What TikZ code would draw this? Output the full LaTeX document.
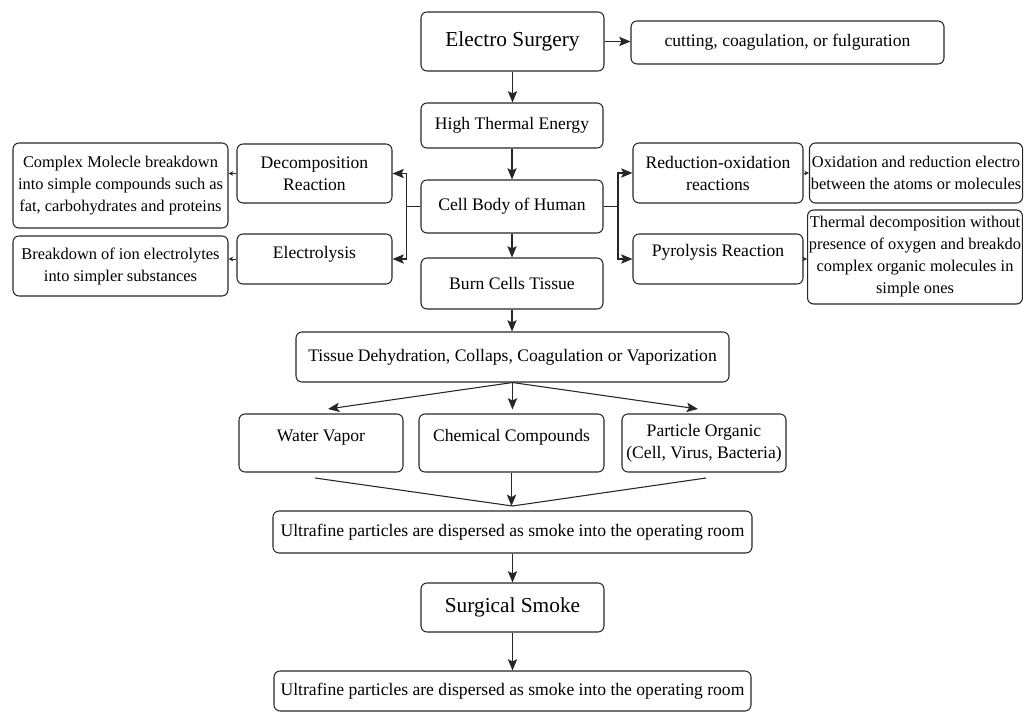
\documentclass[tikz,border=0pt]{standalone}
\usepackage{fontspec}
\setmainfont{Liberation Serif}
\usetikzlibrary{arrows.meta,calc}
\tikzset{
  box/.style={draw=black!85, line width=0.8pt, rounded corners=4.5pt, inner sep=1pt, align=center,
    font=\fontsize{13.2}{16.5}\selectfont},
  big/.style={font=\fontsize{16}{18}\selectfont},
  small/.style={font=\fontsize{12.3}{16.5}\selectfont},
  lift/.style={text height=9.2pt, text depth=#1},
  conn/.style={line width=0.8pt, draw=black!85},
  arr/.style={conn, -{Stealth[length=8.5pt,width=7pt,inset=1.8pt]}},
  tinyarr/.style={line width=0.6pt, draw=black!85, -{Stealth[length=3.5pt,width=3.5pt]}}
}
\newcommand\bx[7]{\node[box,#1,minimum width={(#5-#3)*0.75pt},minimum height={(#6-#4)*0.75pt}] (#2) at ({(#3+#5)/2},{(#4+#6)/2}) {#7};}
\begin{document}
\begin{tikzpicture}[x=0.75pt,y=-0.75pt]
\useasboundingbox (0,0) rectangle (1025,712);
\bx{big}{es}{421}{12}{604}{71}{Electro Surgery}
\bx{}{cut}{631}{21}{944}{64}{cutting, coagulation, or fulguration}
\bx{}{hte}{421}{103}{603}{148}{High Thermal Energy}
\bx{}{cb}{421}{180}{603}{233}{Cell Body of Human}
\bx{}{bc}{421}{258}{603}{309}{Burn Cells Tissue}
\bx{}{dec}{237}{144}{392}{203}{Decomposition\\Reaction}
\bx{small}{cmp}{13}{143}{228}{228}{Complex Molecle breakdown\\into simple compounds such as\\fat, carbohydrates and proteins}
\bx{lift=10.5pt}{ele}{237}{234}{392}{284}{Electrolysis}
\bx{small}{brk}{13}{236}{228}{296}{Breakdown of ion electrolytes\\into simpler substances}
\bx{}{red}{633}{143}{803}{203}{Reduction-oxidation\\reactions}
\bx{small}{oxi}{812}{143}{1020}{203}{Oxidation and reduction electro\\between the atoms or molecules}
\bx{lift=13.5pt}{pyr}{633}{234}{803}{284}{Pyrolysis Reaction}
\bx{small}{thd}{810}{210}{1020}{304}{Thermal decomposition without\\presence of oxygen and breakdo\\complex organic molecules in\\simple ones}
\bx{}{tis}{296}{332}{729}{382}{Tissue Dehydration, Collaps, Coagulation or Vaporization}
\bx{lift=12pt}{wv}{239}{414}{403}{472}{Water Vapor}
\bx{lift=12pt}{chem}{419}{414}{604}{472}{Chemical Compounds}
\bx{}{po}{622}{414}{786}{472}{Particle Organic\\(Cell, Virus, Bacteria)}
\bx{}{uf1}{273}{511}{752}{553}{Ultrafine particles are dispersed as smoke into the operating room}
\bx{big}{ss}{421}{583}{604}{632}{Surgical Smoke}
\bx{}{uf2}{274}{671}{751}{711}{Ultrafine particles are dispersed as smoke into the operating room}
% connectors
\draw[arr] (es.east) -- (es.east -| cut.west);
\draw[arr] (es.south) -- (es.south |- hte.north);
\draw[arr] (hte.south) -- (hte.south |- cb.north);
\draw[arr] (cb.south) -- (cb.south |- bc.north);
\draw[arr] (bc.south) -- (bc.south |- tis.north);
\coordinate (jl) at (406.7,206.5);
\coordinate (jr) at (618,206.5);
\draw[conn] (cb.west) -- (jl);
\draw[arr] (jl) |- (dec.east);
\draw[arr] (jl) |- (ele.east);
\draw[conn] (cb.east) -- (jr);
\draw[arr] (jr) |- (red.west);
\draw[arr] (jr) |- (pyr.west);
\draw[tinyarr] (dec.west) -- (dec.west -| cmp.east);
\draw[tinyarr] (ele.west) -- (ele.west -| brk.east);
\draw[tinyarr] (red.east) -- (red.east -| oxi.west);
\draw[tinyarr] (pyr.east) -- (pyr.east -| thd.west);
\coordinate (wvin) at (328,409);
\coordinate (poin) at (698,409);
\draw[arr] (tis.south) -- (wvin);
\draw[arr] (tis.south) -- (poin);
\draw[arr, shorten >=3pt] (tis.south) -- (tis.south |- chem.north);
\coordinate (wvout) at (315,478);
\coordinate (poout) at (706,478);
\coordinate (m) at (512.5,506);
\draw[conn] (wvout) -- (m) -- (poout);
\draw[arr] (chem.south) -- (chem.south |- m);
\draw[arr] (uf1.south) -- (uf1.south |- ss.north);
\draw[arr] (ss.south) -- (ss.south |- uf2.north);
\end{tikzpicture}
\end{document}
